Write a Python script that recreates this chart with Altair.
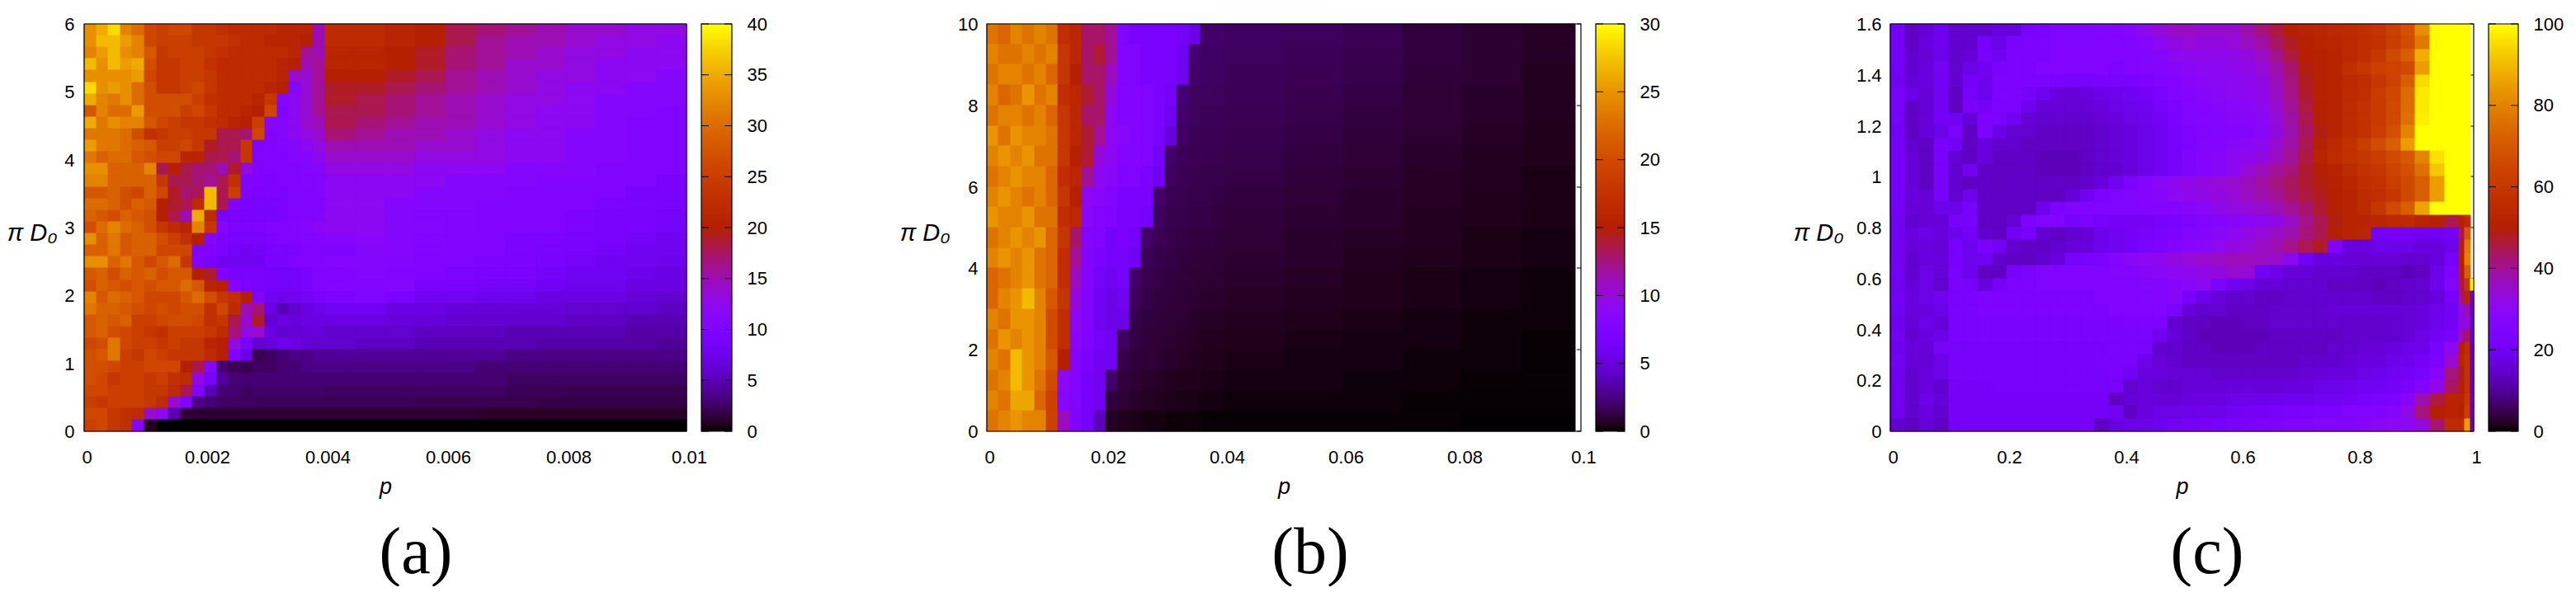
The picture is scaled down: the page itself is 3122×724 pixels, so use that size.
import altair as alt
import numpy as np

# ---------- panel (a): rows top to bottom, 20 fine columns then 12 coarse columns
a_rows = [
[33,35,38,32,30,26,25,26,26,24,24,23,22,22,22,22,21,21,21,15, 22,22,21,20,18,17,16,15,14,14,13,13],
[33,36,36,34,32,26,25,25,25,24,24,24,23,22,22,21,21,21,20,15, 22,22,21,20,18,16,15,15,14,13,13,12],
[32,34,36,33,32,28,24,25,25,25,24,23,22,22,22,22,22,21,16,15, 21,21,20,19,17,16,15,14,13,13,12,12],
[36,33,36,34,35,27,24,24,25,25,23,22,22,22,22,22,21,20,15,16, 21,21,20,19,17,16,14,14,13,12,12,12],
[33,33,33,33,34,26,24,24,25,25,24,22,22,22,22,22,21,14,14,16, 20,20,19,18,16,15,14,13,13,12,12,11],
[38,33,34,33,30,27,24,24,25,26,24,22,22,22,22,21,20,11,14,16, 19,19,18,17,16,15,14,13,12,12,11,11],
[35,32,31,33,30,27,27,27,27,25,23,22,22,22,21,24,11,12,14,16, 19,18,17,16,15,14,13,13,12,11,11,11],
[28,32,30,30,34,27,27,27,25,26,24,22,22,21,20,26,10,12,14,16, 18,18,17,16,15,14,13,12,12,11,11,10],
[35,31,33,32,32,28,26,25,24,24,23,22,21,20,25,11,11,12,14,15, 18,17,16,15,15,14,13,12,12,11,10,10],
[31,31,31,30,27,23,24,25,25,24,24,18,18,17,26,10,11,12,13,14, 17,16,15,15,14,13,12,12,11,11,10,10],
[34,31,31,30,29,28,25,25,26,24,19,18,18,24,10,10,10.5,11,12,13, 15,15,15,14,14,13,12,12,11,11,10,10],
[31,29,30,30,28,27,26,26,21,21,18,18,17,24,10,10,10,11,11,12, 14,14,14,13,13,13,12,12,11,11,10,10],
[33,33,29,29,29,32,18,20,18,17,17,15,19,13,10,10,10,10,11,11, 13,13,13,12,12,12,11,11,11,10,10,10],
[32,32,29,29,29,29,24,18,18,17,16,18,23,10,10,9.5,10,10,10.5,10.5, 12,12,12,12,11,11,11,10,10,10,10,9],
[28,28,29,27,26,29,26,19,17,18,36,18,25,10,9.5,9.5,9.5,10,10,10.5, 12,12,12,11,11,11,10,10,10,10,9,9],
[30,30,29,27,29,28,20,19,18,22,36,18,10,9.5,9,9,9.5,10,10,10.5, 12,12,11,11,11,10.5,10,10,10,9.5,9,9],
[29,28,27,29,28,27,20,18,15,35,22,9,9,9,9,9,9.5,10,10,10.5, 12,12,11,10.5,10.5,10,10,10,9.5,9,9,8.5],
[27,30,32,30,29,27,24,22,21,32,24,11,9.5,9.5,9.5,10,10,10.5,11,11.5, 12,12,11,11,10.5,10,10,10,9.5,9,9,8.5],
[33,29,31,28,29,29,27,25,23,20,11,9.5,9,9,9,9.5,10,10,10.5,10.5, 11,11.5,11,10.5,10,10,9.5,9.5,9,9,8.5,8],
[29,29,31,28,29,29,26,26,26,10,10,9.5,8.5,8,8.5,9,9,9.5,10,10, 10,11,11,10.5,10,10,9.5,9,9,8.5,8,8],
[33,33,29,31,28,26,28,30,24,10,9,8,8,8,8,9,9,10,10,10.5, 11,11,10.5,10,10,9.5,9.5,9,8.5,8,8,7.5],
[28,29,27,29,28,29,27,28,28,20,19,10,9,9,9,8.5,8.5,8.5,9,10, 10.5,11,10,10,9.5,9,9,8.5,8,8,7.5,7],
[27,29,28,27,28,27,28,28,30,28,21,20,11,9.5,9,8.5,8.5,8.5,9,10, 10.5,10.5,11,9,9,8.5,8.5,8,7.5,7.5,7,7],
[32,28,30,29,28,26,26,26,28,30,27,24,23,20,10,8,7.5,8,8.5,9, 9.5,10,9,8,8,7.5,7.5,7,7,7,6.5,6],
[31,29,29,28,27,26,27,26,27,27,23,26,22,15,17,7,5,6,7,7.5, 8,8,7,7,6.5,6.5,6.5,6.5,6,6,6,5.5],
[28,29,28,29,25,25,26,27,27,26,23,24,18,14,19,6,7,6.5,7,7, 7,7,6.5,6.5,6,6,6,6,5.5,5.5,5,5],
[28,29,27,26,25,24,23,25,25,25,24,22,17,13,14,7,6,6.5,6.5,6.5, 6,6,6,5.5,5.5,5.5,5,5,5,5,4.5,4.5],
[26,27,31,26,25,25,24,25,24,24,21,20,13,9,6,6.5,7.5,7,6.5,6, 6,5.5,5.5,5,5,5,5,4.5,4.5,4.5,4.5,4],
[27,28,31,25,24,26,25,24,24,24,22,20,10,7,2,2.5,3,3.5,3.5,4, 4,4,4,4,4,4,3.5,3.5,3.5,3.5,3.5,3.5],
[27,27,26,25,25,26,26,26,20,18,11,3,2.2,2,2.5,2.5,3,3,3.5,3.5, 3.5,3.5,3.5,3.5,3.5,3,3,3,3,3,3,3],
[27,26,24,25,25,24,25,23,22,13,9,4,3,3,3,3,3,3,3,3, 3,3,3,3,3,3,2.5,2.5,2.5,2.5,2.5,2.5],
[26,26,25,25,25,24,24,22,18,10,5,3,3,2.5,2.7,2.7,2.7,2.7,2.7,2.7, 2.5,2.5,2.5,2.5,2.5,2.5,2.2,2.2,2,2,2,2],
[25,24,25,25,25,24,22,14,10,3.5,3,2.5,2.5,2.5,2.3,2.3,2.3,2.3,2.3,2.3, 2.2,2.2,2.2,2,2,2,2,1.8,1.8,1.8,1.8,1.8],
[26,26,24,23,22,14,12,5,1.3,1.2,1.2,1.2,1.2,1.2,1.2,1.2,1.2,1.2,1.2,1.2, 1.2,1.2,1.2,1.2,1.2,1,1,1,1,1,1,1],
[25,26,24,23,11,0.8,0.1,0,0,0,0,0,0,0,0,0,0,0,0,0, 0,0,0,0,0,0,0,0,0,0,0,0],
]

# ---------- panel (b): 20 columns of width 0.002, then 6 wider ones
b_rows = [
[23,22,24,23,24,23,17,16,13,13,12,8,7,7,7,7,6.5,5.5,2,2, 1.9,1.8,1.6,1.2,.9,.7],
[24,23,23,24,23,24,18,16,13,14,12,8,7.5,7,7,7,6,2.2,1.9,1.9, 1.8,1.7,1.5,1.2,.9,.7],
[23,24,24,23,24,22,18,15,13,13,11,8,7.5,7,7,7,6,2,1.9,1.9, 1.7,1.6,1.4,1.1,.9,.6],
[24,22,23,25,23,24,17,16,14,13,10,8,8,7.5,7,6.5,2.2,1.8,1.8,1.8, 1.7,1.5,1.3,1,.8,.6],
[23,24,24,23,24,22,18,16,13,13,9,8,8,7.5,7,6,2,1.8,1.7,1.7, 1.6,1.4,1.2,1,.8,.6],
[25,23,25,24,24,23,18,16,14,12,9,8.5,8,7.5,7,5,1.9,1.7,1.6,1.6, 1.5,1.3,1.1,.9,.7,.5],
[24,25,24,25,23,23,18,15,14,10,9,8,8,7.5,6.5,2,1.7,1.6,1.5,1.5, 1.4,1.2,1,.8,.6,.5],
[23,24,25,24,24,22,17,16,12,9,8.5,7.5,7.5,7,6,1.8,1.6,1.5,1.4,1.4, 1.3,1.1,.9,.7,.6,.4],
[24,25,24,23,24,22,18,15,9,8.5,8,7,7,7,2,1.6,1.5,1.4,1.4,1.3, 1.2,1,.8,.7,.5,.4],
[25,24,24,25,23,23,17,16,8.5,8,7.5,7,7,6.5,1.8,1.5,1.4,1.3,1.3,1.2, 1.1,.9,.8,.6,.5,.4],
[23,24,25,24,25,22,18,13,8,7.5,6.5,7,6.5,2,1.6,1.4,1.3,1.2,1.2,1.1, 1,.8,.7,.6,.4,.3],
[24,25,24,25,23,22,17,12,8,7,6.5,6.5,6,1.7,1.4,1.3,1.2,1.1,1,1, .9,.8,.6,.5,.4,.3],
[22,23,24,25,23,22,17,11,8,6.5,6,6.5,2,1.5,1.3,1.2,1.1,1,.9,.9, .8,.7,.5,.4,.3,.2],
[22,24,25,27,24,21,18,10,7.5,6,5.5,6,1.7,1.3,1.2,1.1,1,.9,.8,.8, .7,.6,.5,.4,.3,.2],
[24,23,25,25,24,20,17,9,7.5,6,5.5,5.5,1.4,1.2,1.1,1,.9,.8,.7,.7, .6,.5,.4,.3,.2,.2],
[23,25,24,25,24,20,17,8.5,7.5,6.5,6,1.8,1.3,1.1,1,.9,.8,.7,.6,.6, .5,.4,.3,.3,.2,.1],
[24,23,27,25,24,21,15,8,7,6,6,1.4,1.1,1,.9,.8,.7,.6,.5,.5, .4,.3,.3,.2,.2,.1],
[23,24,27,25,23,20,9,8,6.5,6,2,1.2,1,.8,.7,.6,.5,.5,.4,.4, .3,.3,.2,.2,.1,.1],
[24,23,26,26,22,19,8.5,7.5,6.5,6,1.2,1,.8,.7,.6,.5,.4,.4,.3,.3, .2,.2,.2,.1,.1,.1],
[23,24,25,24,24,19,11,7.5,6.5,4,.7,.5,.4,.3,.3,.2,.2,.2,.1,.1, .1,.1,.1,.1,.05,.05],
]

# ---------- panel (c): 39 columns of width 0.025
c_rows = [
[21,14,16,19,15,15,15,17,17,23,24,25,25,25,26,27,28,31,34,36,36,35,35,35, 38,42,46,50,52,53,54,55,57,59,63,68,82,100,100],
[21,14,17,19,15,15,22,18,23,24,24,25,25,25,25,26,26,28,30,33,34,33,33,34, 36,39,44,48,51,52,53,54,56,58,62,67,78,100,100],
[21,15,16,19,15,16,22,20,24,24,24,25,25,25,25,25,25,26,28,30,31,31,31,32, 33,36,41,46,50,51,52,54,56,60,66,72,88,100,100],
[21,15,17,21,15,18,20,23,24,24,25,25,25,25,25,24,25,26,27,28,29,30,30,31, 32,34,38,43,49,51,52,57,60,63,64,66,85,100,100],
[20,16,17,20,15,21,19,24,24,24,24,23,22,22,23,23,23,24,25,27,28,29,30,30, 31,33,37,42,48,51,52,54,56,60,64,72,95,100,100],
[22,18,16,20,14,22,19,24,24,22,19,17,16,17,18,19,20,21,23,25,27,28,29,30, 30,32,36,41,47,51,52,55,57,61,65,75,97,100,100],
[22,14,16,20,14,23,21,24,24,19,16,16,16,16,17,18,19,20,22,24,26,27,28,29, 29,31,35,40,46,50,52,55,58,61,66,75,97,100,100],
[22,14,16,21,20,16,24,24,20,16,15,15,15,15,16,17,18,19,21,23,25,26,27,28, 28,30,34,39,45,50,52,55,58,61,66,76,98,100,100],
[21,14,16,18,23,14,24,18,15,15,14,14,14,14,15,16,17,18,20,22,24,25,26,27, 27,29,33,38,44,49,52,55,58,62,68,80,100,100,100],
[21,15,14,22,20,14,17,15,15,14,14,14,14,14,15,16,17,18,20,22,24,26,27,28, 29,31,35,39,45,51,54,58,62,67,72,85,100,100,100],
[21,16,14,22,16,14,17,14,14,14,13,13,13,14,15,16,17,18,20,22,25,27,28,30, 31,33,36,40,46,52,55,58,60,62,66,70,80,96,100],
[21,16,14,22,15,20,14,14,14,14,13,13,13,14,15,15,17,18,20,22,25,27,28,30, 34,37,40,42,47,50,52,55,58,60,64,68,76,92,100],
[21,16,14,22,15,14,14,14,14,14,14,14,14,15,17,20,24,27,29,31,32,33,34,35, 37,39,42,44,47,49,51,53,56,58,62,66,72,85,100],
[21,17,16,22,15,19,14,14,14,14,14,14,16,20,24,25,26,27,28,30,31,32,33,34, 36,38,40,43,46,48,50,52,55,57,60,66,72,85,100],
[21,16,16,19,19,22,14,14,14,14,19,24,25,25,25,25,25,27,27,27,28,29,31,33, 34,35,37,40,43,47,50,52,55,60,66,72,86,100,100],
[20,15,16,16,22,22,14,14,16,24,25,25,22,24,22,21,21,21,22,23,24,25,27,28, 29,30,32,36,41,45,49,52,52,53,54,55,52,50,45],
[20,17,18,17,19,21,15,14,20,22,15,14,15,16,19,20,21,22,23,24,26,27,29,30, 33,34,36,38,42,45,50,52,53,21,21,21,20,20,21],
[20,16,17,16,22,19,23,21,15,14,14,15,16,17,19,20,21,23,24,26,28,29,31,33, 34,36,38,41,45,48,25,17,17,18,18,18,17,17,19],
[20,15,17,17,22,19,20,15,14,14,15,17,22,23,24,27,29,30,31,33,34,35,36,37, 37,36,35,30,20,17,17,16,16,16,16,15,15,17,22],
[21,15,18,16,23,19,14,14,22,24,25,25,25,25,25,26,27,28,29,30,31,32,33,35, 34,20,18,16,16,15,15,15,14,14,14,13,14,18,24],
[20,16,18,15,23,22,17,22,24,24,25,25,25,25,25,25,25,26,27,28,29,30,24,20, 18,16,16,15,15,15,14,14,14,13,14,15,15,19,26],
[21,17,18,20,23,23,24,24,24,24,24,24,24,24,25,25,25,26,27,28,22,18,16,15, 15,14,14,15,15,15,15,15,15,14,14,15,15,17,22],
[20,17,17,18,23,23,24,24,24,24,24,24,24,24,24,25,25,25,26,24,16,15,15,14, 14,14,15,15,15,15,16,16,16,16,16,16,17,19,20],
[19,16,18,16,23,23,23,23,23,23,23,23,23,23,23,23,24,24,24,15,14,14,13,13, 14,14,15,15,15,15,15,15,15,15,15,16,17,19,21],
[20,15,17,18,23,23,23,23,23,23,23,23,23,23,23,23,23,23,20,16,14,13,13,13, 13,13,14,14,14,14,14,15,15,15,15,16,18,21,23],
[19,17,16,22,22,22,22,22,22,22,22,22,22,22,22,23,23,23,15,15,14,14,13,13, 13,14,14,14,14,14,15,15,16,16,17,18,19,23,30],
[20,16,16,18,22,22,22,22,22,22,22,22,22,22,23,23,23,18,16,15,14,14,14,14, 14,14,14,14,15,15,15,16,17,17,18,19,21,24,35],
[19,15,17,18,22,22,22,22,22,22,22,22,22,22,22,23,20,17,17,16,16,16,15,15, 15,15,15,15,16,16,17,17,18,19,20,21,23,28,42],
[19,15,17,15,21,21,21,22,22,22,22,22,22,22,22,22,15,17,15,15,16,16,16,16, 16,16,16,17,17,18,18,19,20,20,21,23,25,32,44],
[19,15,18,16,21,21,21,21,21,21,21,21,21,21,21,14,16,17,16,16,17,17,17,18, 18,18,19,19,19,20,20,21,22,23,24,28,38,46,52],
[19,15,17,15,21,21,21,21,21,21,21,21,21,21,21,20,14,17,18,18,18,19,19,20, 21,21,22,23,23,24,24,25,25,25,27,32,42,50,52],
[15,14,16,14,21,21,21,21,21,21,21,21,21,21,14,17,18,18,19,20,21,21,22,23, 23,24,24,25,25,26,26,27,28,29,30,30,33,43,55],
]
c_edge_1 = [100]*15 + [50,45,48,50,48,45,42,32,32,38,50,52,48,50,52,50,55]
c_edge_2 = [100]*15 + [55,70,78,80,72,60,52,38,34,44,56,58,58,58,60,62,85]
c_edge_3 = [None]*20 + [100,17,15,15,15,15,15,15,15,15,15,15]

# ---------- axes and labels
a_xticks = [0, 0.002, 0.004, 0.006, 0.008, 0.01]
a_yticks = [0, 1, 2, 3, 4, 5, 6]
a_cticks = [0, 5, 10, 15, 20, 25, 30, 35, 40]
b_xticks = [0, 0.02, 0.04, 0.06, 0.08, 0.1]
b_yticks = [0, 2, 4, 6, 8, 10]
b_cticks = [0, 5, 10, 15, 20, 25, 30]
c_xticks = [0, 0.2, 0.4, 0.6, 0.8, 1]
c_yticks = [0, 0.2, 0.4, 0.6, 0.8, 1, 1.2, 1.4, 1.6]
c_cticks = [0, 20, 40, 60, 80, 100]

FONT = "Liberation Sans"
H = 494
NUM = "~f"

# grid edges
a_xe = [i * 0.0002 for i in range(21)] + [0.004 + i * 0.0005 for i in range(1, 13)]
a_ye = [6 - i * 6 / 35 for i in range(36)]
b_xe = [i * 0.002 for i in range(21)] + [0.05, 0.06, 0.07, 0.08, 0.09, 0.099]
b_ye = [10 - i * 0.5 for i in range(21)]
c_xe = [i * 0.025 for i in range(40)] + [0.985, 0.995, 1.0]
c_ye = [1.6 - i * 0.05 for i in range(33)]
c_full = [r + [e1, e2, e3] for r, e1, e2, e3 in zip(c_rows, c_edge_1, c_edge_2, c_edge_3)]

# gnuplot 7,5,15 palette
def pal(x):
    r = np.sqrt(x); g = x ** 3; b = max(0.0, np.sin(2 * np.pi * x))
    return "#%02x%02x%02x" % (round(r * 255), round(g * 255), round(b * 255))
STOPS = [i / 64 for i in range(65)]
COLORS = [pal(s) for s in STOPS]


def cells(rows, xe, ye):
    out = []
    for j, row in enumerate(rows):
        for i, v in enumerate(row):
            if v is not None:
                out.append({"x0": xe[i], "x1": xe[i + 1], "y0": ye[j + 1], "y1": ye[j], "v": v})
    return out


def heat(rows, xe, ye, xdom, ydom, cmax, xticks, yticks, W, title_x, label_pad,
         label, label_x, strip):
    xs = alt.Scale(domain=xdom, nice=False, zero=False, round=True)
    ys = alt.Scale(domain=ydom, nice=False, zero=False, round=True)
    cs = alt.Scale(domain=[s * cmax for s in STOPS], range=COLORS, clamp=True, interpolate="rgb")
    yaxis = alt.Axis(
        values=yticks, format=NUM, title="π D₀", grid=False, ticks=False, domain=False,
        labelFont=FONT, labelFontSize=22, labelColor="black", labelPadding=label_pad,
        labelOverlap=False, labelFlush=False,
        titleFont=FONT, titleFontSize=29, titleFontStyle="italic",
        titleFontWeight="normal", titleColor="black", titleAngle=0,
        titleAlign="right", titleBaseline="middle", titleX=title_x, titleY=H / 2 + 6)
    rect = alt.Chart(alt.Data(values=cells(rows, xe, ye))).mark_rect(strokeWidth=1).encode(
        x=alt.X("x0:Q", scale=xs, axis=alt.Axis(
            values=xticks, format=NUM, title="p", grid=False, ticks=False, domain=False,
            labelFont=FONT, labelFontSize=22, labelColor="black", labelPadding=21,
            labelOffset=3, labelOverlap=False, labelFlush=False,
            titleFont=FONT, titleFontSize=27, titleFontStyle="italic",
            titleFontWeight="normal", titleColor="black", titlePadding=12)),
        x2="x1:Q",
        y=alt.Y("y0:Q", scale=ys, axis=yaxis),
        y2="y1:Q",
        color=alt.Color("v:Q", legend=None, scale=cs),
        stroke=alt.Stroke("v:Q", legend=None, scale=cs),
    )
    one = alt.Data(values=[{"t": label}])
    border = alt.Chart(one).mark_rect(fill="transparent", stroke="black", strokeWidth=1.2).encode(
        x=alt.value(0), x2=alt.value(W), y=alt.value(0), y2=alt.value(H))
    text = alt.Chart(one).mark_text(font="Liberation Serif", fontSize=80, color="black",
                                    align="center", baseline="middle").encode(
        x=alt.value(label_x), y=alt.value(642), text="t:N")
    layers = [rect, border, text]
    if strip:
        tick = alt.Chart(alt.Data(values=[{"t": t} for t in yticks])).mark_rule(
            color="black", strokeWidth=1).encode(
            x=alt.value(W - 5), x2=alt.value(W),
            y=alt.Y("t:Q", scale=ys, axis=yaxis))
        layers = [tick] + layers
    return alt.layer(*layers).properties(width=W, height=H)


def colorbar(cmax, cticks, W):
    ys = alt.Scale(domain=[0, cmax], nice=False, zero=False)
    caxis = alt.Axis(
        orient="right", values=cticks, format=NUM, title=None, grid=False, ticks=False,
        domain=False, labelFont=FONT, labelFontSize=22, labelColor="black",
        labelPadding=18, labelOverlap=False, labelFlush=False)
    one = alt.Data(values=[{"t": 0}])
    grad = alt.Chart(one).mark_rect(fill=alt.LinearGradient(
        gradient="linear", x1=0, x2=0, y1=1, y2=0,
        stops=[alt.GradientStop(offset=s, color=c) for s, c in zip(STOPS, COLORS)])).encode(
        x=alt.value(0), x2=alt.value(W), y=alt.value(0), y2=alt.value(H))
    tdata = alt.Data(values=[{"t": t} for t in cticks])
    left = alt.Chart(tdata).mark_rule(color="black", strokeWidth=1).encode(
        x=alt.value(0), x2=alt.value(9), y=alt.Y("t:Q", scale=ys, axis=caxis))
    right = alt.Chart(tdata).mark_rule(color="black", strokeWidth=1).encode(
        x=alt.value(W - 9), x2=alt.value(W), y=alt.Y("t:Q", scale=ys, axis=caxis))
    border = alt.Chart(one).mark_rect(fill="transparent", stroke="black", strokeWidth=1.2).encode(
        x=alt.value(0), x2=alt.value(W), y=alt.value(0), y2=alt.value(H))
    return alt.layer(grad, left, right, border).properties(width=W, height=H)


def spacer(W):
    return alt.Chart(alt.Data(values=[{"t": " "}])).mark_text(opacity=0).encode(
        x=alt.value(0), y=alt.value(0), text="t:N").properties(width=W, height=H)


panel_a = heat(a_rows, a_xe, a_ye, [0, 0.01], [0, 6], 40, a_xticks, a_yticks, 730, -33, 12, "(a)", 402, False)
panel_b = heat(b_rows, b_xe, b_ye, [0, 0.1], [0, 10], 30, b_xticks, b_yticks, 720, -45, 11, "(b)", 392, True)
panel_c = heat(c_full, c_xe, c_ye, [0, 1], [0, 1.6], 100, c_xticks, c_yticks, 707, -57, 11, "(c)", 384, True)

chart = alt.hconcat(
    panel_a, colorbar(40, a_cticks, 37), spacer(273),
    panel_b, colorbar(30, b_cticks, 35), spacer(286),
    panel_c, colorbar(100, c_cticks, 36),
    spacing=18, bounds="flush",
).resolve_scale(color="independent", stroke="independent").configure_view(stroke=None).properties(
    padding={"left": 0, "top": 10, "right": 0, "bottom": 0})

chart.save("out.html", embed_options={"renderer": "svg", "actions": False})
